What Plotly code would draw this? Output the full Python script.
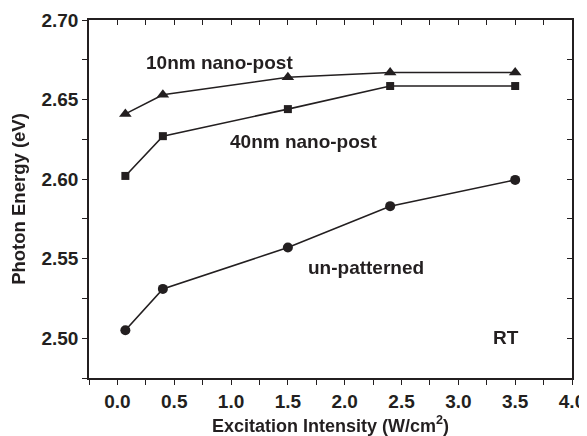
import plotly.graph_objects as go

x_intensity = [0.07, 0.4, 1.5, 2.4, 3.5]
y_10nm = [2.641, 2.653, 2.664, 2.667, 2.667]
y_40nm = [2.602, 2.627, 2.644, 2.6585, 2.6585]
y_unpat = [2.505, 2.531, 2.557, 2.583, 2.5995]

x_ticks = [0.0, 0.5, 1.0, 1.5, 2.0, 2.5, 3.0, 3.5, 4.0]
y_ticks = [2.50, 2.55, 2.60, 2.65, 2.70]

FONT = "Liberation Sans"
fs = 19
C = "#231f20"

fig = go.Figure()
line = dict(color=C, width=1.6)
fig.add_trace(go.Scatter(x=x_intensity, y=y_10nm, mode="lines+markers", line=line,
                         marker=dict(symbol="triangle-up", size=11, color=C)))
fig.add_trace(go.Scatter(x=x_intensity, y=y_40nm, mode="lines+markers", line=line,
                         marker=dict(symbol="square", size=8, color=C)))
fig.add_trace(go.Scatter(x=x_intensity, y=y_unpat, mode="lines+markers", line=line,
                         marker=dict(symbol="circle", size=10, color=C)))
# invisible copy to activate the mirrored (top/right) axes
fig.add_trace(go.Scatter(x=x_intensity, y=y_unpat, xaxis="x2", yaxis="y2", mode="markers",
                         opacity=0, hoverinfo="skip"))

xr = [-0.25, 4.0]
yr = [2.475, 2.70]
tickfont = dict(family=FONT, size=fs, color=C, weight="bold")

fig.update_layout(
    width=579, height=428,
    margin=dict(l=81, r=15, t=12, b=58),
    plot_bgcolor="white", paper_bgcolor="white",
    showlegend=False,
    font=dict(family=FONT, color=C),
    xaxis=dict(range=xr, tickvals=x_ticks, ticktext=[f"{v:.1f}" for v in x_ticks],
               automargin=False,
               ticks="outside", ticklen=5, tickwidth=1.2, tickcolor=C,
               minor=dict(dtick=0.25, tick0=0, ticks="outside", ticklen=5, tickwidth=1.2, tickcolor=C),
               showline=True, linecolor=C, linewidth=1.5, showgrid=False, zeroline=False,
               tickfont=tickfont,
               title=dict(text="Excitation Intensity (W/cm<sup>2</sup>)", standoff=9,
                          font=dict(family=FONT, size=18, color=C, weight="bold"))),
    yaxis=dict(range=yr, tickvals=y_ticks, ticktext=[f"{v:.2f}" for v in y_ticks],
               automargin=False,
               ticks="outside", ticklen=5, tickwidth=1.2, tickcolor=C,
               minor=dict(dtick=0.025, tick0=2.5, ticks="outside", ticklen=5, tickwidth=1.2, tickcolor=C),
               showline=True, linecolor=C, linewidth=1.5, showgrid=False, zeroline=False,
               tickfont=tickfont,
               title=dict(text="Photon Energy (eV)", standoff=12,
                          font=dict(family=FONT, size=18.5, color=C, weight="bold"))),
    xaxis2=dict(range=xr, overlaying="x", side="top", showticklabels=False, automargin=False,
                dtick=0.25, tick0=0, ticks="inside", ticklen=5, tickwidth=1.2, tickcolor=C,
                showline=True, linecolor=C, linewidth=1.5, showgrid=False, zeroline=False),
    yaxis2=dict(range=yr, overlaying="y", side="right", showticklabels=False, automargin=False,
                dtick=0.025, tick0=2.5, ticks="inside", ticklen=5, tickwidth=1.2, tickcolor=C,
                showline=True, linecolor=C, linewidth=1.5, showgrid=False, zeroline=False),
)

ann_font = dict(family=FONT, size=fs, color=C, weight="bold")
for text, xx, yy in [("10nm nano-post", 0.90, 2.6736),
                     ("40nm nano-post", 1.64, 2.6239),
                     ("un-patterned", 2.19, 2.5447),
                     ("RT", 3.42, 2.5006)]:
    fig.add_annotation(x=xx, y=yy, text=text, showarrow=False, font=ann_font, xref="x", yref="y")

fig.write_html("out.html")
